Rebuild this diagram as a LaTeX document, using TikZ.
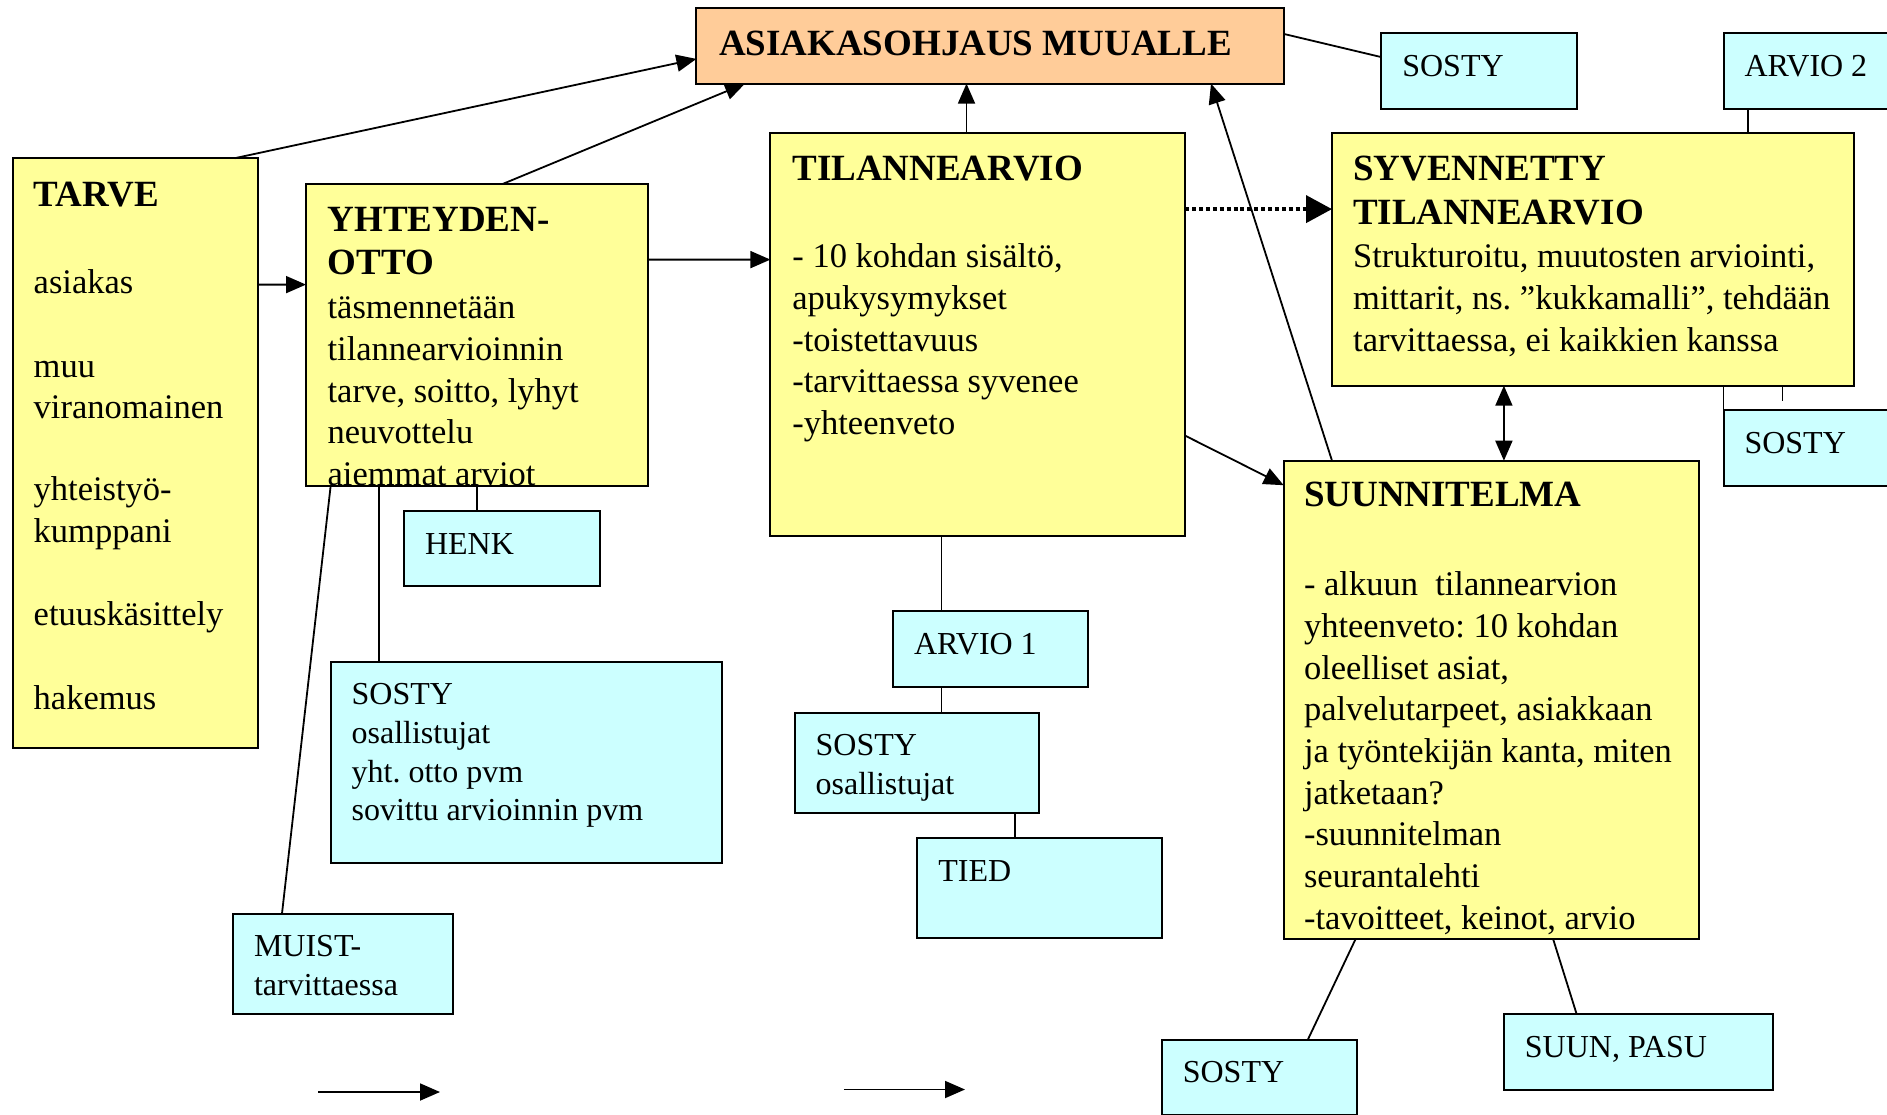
\documentclass[tikz,border=0pt]{standalone}
\usepackage{fontspec}
\setmainfont{Liberation Serif}
\usetikzlibrary{arrows.meta}
\frenchspacing
\definecolor{yel}{HTML}{FFFF99}
\definecolor{blu}{HTML}{CCFFFF}
\definecolor{ora}{HTML}{FFCC99}
\newcommand\hd[1]{{\bfseries\fontsize{37}{41.7}\selectfont #1}}
\newcommand\st{\rule{0pt}{40pt}}
\begin{document}
\begin{tikzpicture}[x=1pt,y=-1pt,
  box/.style={draw=black, line width=2pt, anchor=north west, inner sep=0pt, outer sep=0pt},
  ybox/.style={box, fill=yel},
  bbox/.style={box, fill=blu},
  obox/.style={box, fill=ora},
  txt/.style={anchor=north west, inner sep=0pt, outer sep=0pt, align=left, font=\fontsize{34.5}{41.7}\selectfont},
  btxt/.style={txt, font=\fontsize{32}{38.6}\selectfont},
  con/.style={line width=1.8pt},
  arr/.style={con, -{Triangle[length=20pt,width=17pt]}},
  darr/.style={con, {Triangle[length=20pt,width=17pt]}-{Triangle[length=20pt,width=17pt]}},
  dotarr/.style={line width=4pt, dash pattern=on 4pt off 2.9pt, -{Triangle[length=26pt,width=27pt]}},
]
\useasboundingbox[fill=white] (0,0) rectangle (1887,1114);

% boxes
\node[obox, minimum width=587.3pt, minimum height=75.7pt] (asiak) at (696.4,7.9) {};
\node[bbox, minimum width=195.3pt, minimum height=75.7pt] (sostyA) at (1381.3,32.9) {};
\node[bbox, minimum width=180pt, minimum height=75.7pt] (arvio2) at (1723.5,32.9) {};
\node[ybox, minimum width=244.9pt, minimum height=590.1pt] (tarve) at (12.8,158.2) {};
\node[ybox, minimum width=342.4pt, minimum height=302.4pt] (yht) at (306,184) {};
\node[ybox, minimum width=414.8pt, minimum height=403pt] (tila) at (770.4,133.2) {};
\node[ybox, minimum width=522.4pt, minimum height=252.5pt] (syv) at (1332,133.2) {};
\node[bbox, minimum width=180pt, minimum height=75.7pt] (sostyR) at (1723.5,410) {};
\node[ybox, minimum width=415.6pt, minimum height=478.3pt] (suun) at (1283.7,460.7) {};
\node[bbox, minimum width=195.5pt, minimum height=74.6pt] (henk) at (404,511.4) {};
\node[bbox, minimum width=391.4pt, minimum height=201.7pt] (sostyB) at (330.6,661.7) {};
\node[bbox, minimum width=220pt, minimum height=100.3pt] (muist) at (233,913.5) {};
\node[bbox, minimum width=195.4pt, minimum height=75.8pt] (arvio1) at (893,611.4) {};
\node[bbox, minimum width=244.5pt, minimum height=100.4pt] (sostyO) at (794.6,712.6) {};
\node[bbox, minimum width=244.5pt, minimum height=100.4pt] (tied) at (917.3,837.9) {};
\node[bbox, minimum width=195.3pt, minimum height=75.7pt] (sostyD) at (1161.8,1039.5) {};
\node[bbox, minimum width=269.5pt, minimum height=75.5pt] (suunpasu) at (1503.9,1014) {};

% texts
\node[txt] (asiakt) at ([xshift=22.6pt,yshift=-7.2pt]asiak.north west) {\st\hd{ASIAKASOHJAUS MUUALLE}};
\node[txt] (tarvet) at ([xshift=20.9pt,yshift=-8.3pt]tarve.north west) {\st\hd{TARVE}\\[45.5pt]asiakas\\[41.7pt]muu\\viranomainen\\[40pt]yhteistyö-\\kumppani\\[42pt]etuuskäsittely\\[41.7pt]hakemus};
\node[txt] (yhtt) at ([xshift=21.6pt,yshift=-7.9pt]yht.north west) {\st\hd{YHTEYDEN-}\\[1.3pt]\hd{OTTO}\\[2.1pt]täsmennetään\\tilannearvioinnin\\tarve, soitto, lyhyt\\neuvottelu\\aiemmat arviot};
\node[txt] (tilat) at ([xshift=22pt,yshift=-6.9pt]tila.north west) {\st\hd{TILANNEARVIO}\\[45.9pt]- 10 kohdan sisältö,\\apukysymykset\\-toistettavuus\\-tarvittaessa syvenee\\-yhteenveto};
\node[txt] (syvt) at ([xshift=21.2pt,yshift=-6.9pt]syv.north west) {\st\hd{SYVENNETTY}\\[3.1pt]\hd{TILANNEARVIO}\\[1.3pt]Strukturoitu, muutosten arviointi,\\mittarit, ns. ”kukkamalli”, tehdään\\tarvittaessa, ei kaikkien kanssa};
\node[txt] (suunt) at ([xshift=20.3pt,yshift=-6.1pt]suun.north west) {\st\hd{SUUNNITELMA}\\[47.2pt]- alkuun~~tilannearvion\\yhteenveto: 10 kohdan\\oleelliset asiat,\\palvelutarpeet, asiakkaan\\ja työntekijän kanta, miten\\jatketaan?\\-suunnitelman\\seurantalehti\\-tavoitteet, keinot, arvio};

\node[btxt] (sostyAt) at ([xshift=21pt,yshift=-3.2pt]sostyA.north west) {\st SOSTY};
\node[btxt] (arvio2t) at ([xshift=21pt,yshift=-3.2pt]arvio2.north west) {\st ARVIO 2};
\node[btxt] (sostyRt) at ([xshift=21pt,yshift=-3.2pt]sostyR.north west) {\st SOSTY};
\node[btxt] (henkt) at ([xshift=21pt,yshift=-3.2pt]henk.north west) {\st HENK};
\node[btxt] (sostyBt) at ([xshift=21pt,yshift=-3.2pt]sostyB.north west) {\st SOSTY\\osallistujat\\yht. otto pvm\\sovittu arvioinnin pvm};
\node[btxt] (muistt) at ([xshift=21pt,yshift=-3.2pt]muist.north west) {\st MUIST-\\tarvittaessa};
\node[btxt] (arvio1t) at ([xshift=21pt,yshift=-3.2pt]arvio1.north west) {\st ARVIO 1};
\node[btxt] (sostyOt) at ([xshift=21pt,yshift=-3.2pt]sostyO.north west) {\st SOSTY\\osallistujat};
\node[btxt] (tiedt) at ([xshift=21pt,yshift=-3.2pt]tied.north west) {\st TIED};
\node[btxt] (sostyDt) at ([xshift=21pt,yshift=-3.2pt]sostyD.north west) {\st SOSTY};
\node[btxt] (suunpasut) at ([xshift=21pt,yshift=-3.2pt]suunpasu.north west) {\st SUUN, PASU};

% arrows
\draw[arr] ([xshift=221.9pt]tarve.north west) -- ([yshift=-51pt]asiak.north west);
\draw[arr] ([xshift=196.6pt]yht.north west) -- ([xshift=48.6pt]asiak.south west);
\draw[arr] ([yshift=-126.4pt]tarve.north east) -- ([yshift=-100.6pt]yht.north west);
\draw[arr] ([yshift=-75.6pt]yht.north east) -- ([yshift=-126.4pt]tila.north west);
\draw[arr] ([xshift=196.1pt]tila.north west) -- ([xshift=270.1pt]asiak.south west);
\draw[arr] ([xshift=48.3pt]suun.north west) -- ([xshift=514.6pt]asiak.south west);
\draw[dotarr] ([yshift=-75.9pt]tila.north east) -- ([yshift=-75.9pt]syv.north west);
\draw[arr] ([yshift=-302.5pt]tila.north east) -- ([yshift=-24.5pt]suun.north west);
\draw[darr] ([xshift=171.9pt]syv.south west) -- ([xshift=220.2pt]suun.north west);

% plain connectors
\draw[con] ([yshift=-26pt]asiak.north east) -- ([yshift=-24.2pt]sostyA.north west);
\draw[con] ([xshift=24.2pt]arvio2.south west) -- ([xshift=415.7pt]syv.north west);
\draw[con] ([xshift=391.5pt]syv.south west) -- (sostyR.north west);
\coordinate (stubend) at (1782.4,401);
\draw[con] ([xshift=450.4pt]syv.south west) -- (stubend);
\draw[con] ([xshift=171pt]yht.south west) -- ([xshift=73pt]henk.north west);
\draw[con] ([xshift=73pt]yht.south west) -- ([xshift=48.4pt]sostyB.north west);
\draw[con] ([xshift=24.6pt]yht.south west) -- ([xshift=49pt]muist.north west);
\draw[con] ([xshift=171.1pt]tila.south west) -- ([xshift=48.5pt]arvio1.north west);
\draw[con] ([xshift=48.5pt]arvio1.south west) -- ([xshift=146.9pt]sostyO.north west);
\draw[con] ([xshift=220.4pt]sostyO.south west) -- ([xshift=97.7pt]tied.north west);
\draw[con] ([xshift=71.9pt]suun.south west) -- ([xshift=146.1pt]sostyD.north west);
\draw[con] ([xshift=269.4pt]suun.south west) -- ([xshift=72.7pt]suunpasu.north west);

% loose arrows
\coordinate (la1) at (318,1092);
\coordinate (lb1) at (440,1092);
\draw[arr] (la1) -- (lb1);
\coordinate (la2) at (843.8,1089.5);
\coordinate (lb2) at (965,1089.5);
\draw[arr] (la2) -- (lb2);
\end{tikzpicture}
\end{document}
